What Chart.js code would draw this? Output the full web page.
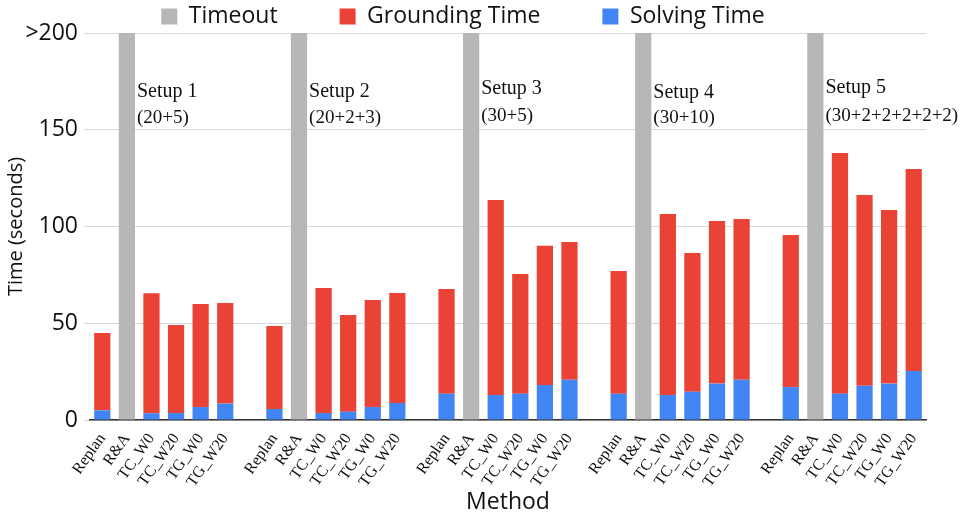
<!DOCTYPE html>
<html>
<head>
<meta charset="utf-8">
<script src="https://cdn.jsdelivr.net/npm/chart.js@4.4.1/dist/chart.umd.min.js"></script>
<style>
  html, body { margin: 0; padding: 0; background: #fff; }
  #wrap { width: 961px; height: 516px; }
</style>
</head>
<body>
<div id="wrap"><canvas id="timeChart"></canvas></div>
<script>
var methods = ['Replan', 'R&A', 'TC_W0', 'TC_W20', 'TG_W0', 'TG_W20'];
var setupNames = ['Setup 1', 'Setup 2', 'Setup 3', 'Setup 4', 'Setup 5'];
var setupSizes = ['(20+5)', '(20+2+3)', '(30+5)', '(30+10)', '(30+2+2+2+2+2)'];

// per setup, per method (R&A timed out, so null)
var solving1 = [5, null, 3.5, 3.6, 6.7, 8.5];
var solving2 = [5.7, null, 3.6, 4.3, 6.7, 8.8];
var solving3 = [13.6, null, 12.9, 13.6, 18.1, 20.8];
var solving4 = [13.6, null, 12.9, 14.6, 18.8, 20.8];
var solving5 = [17, null, 13.6, 17.7, 18.8, 25.3];

var grounding1 = [40, null, 62, 45.5, 53.3, 52];
var grounding2 = [42.9, null, 64.6, 50, 55.3, 56.8];
var grounding3 = [54.1, null, 100.8, 61.9, 71.9, 71.2];
var grounding4 = [63.4, null, 93.6, 71.7, 84, 83.1];
var grounding5 = [78.6, null, 124.4, 98.6, 89.7, 104.4];

var timeout = [null, 200, null, null, null, null];

var yTicks = [0, 50, 100, 150, 200];
var yTickLabels = ['0', '50', '100', '150', '>200'];

// build flat category list with an empty slot between setups
var labels = [], solving = [], grounding = [], timeouts = [], raIndex = [];
var solvingSets = [solving1, solving2, solving3, solving4, solving5];
var groundingSets = [grounding1, grounding2, grounding3, grounding4, grounding5];
for (var s = 0; s < setupNames.length; s++) {
    if (s > 0) {
        labels.push('');
        solving.push(null); grounding.push(null); timeouts.push(null);
    }
    for (var m = 0; m < methods.length; m++) {
        if (methods[m] === 'R&A') raIndex.push(labels.length);
        labels.push(methods[m]);
        solving.push(solvingSets[s][m]);
        grounding.push(groundingSets[s][m]);
        timeouts.push(timeout[m]);
    }
}

var setupLabelShift = [0, 0, -3, 1, -4];

var setupLabels = {
    id: 'setupLabels',
    afterDatasetsDraw: function(chart) {
        var ctx = chart.ctx;
        var meta = chart.getDatasetMeta(2);
        var top = chart.chartArea.top;
        ctx.save();
        ctx.fillStyle = '#111';
        ctx.textAlign = 'left';
        ctx.textBaseline = 'middle';
        raIndex.forEach(function(idx, i) {
            var bar = meta.data[idx];
            var x = bar.x + bar.width / 2 + 2;
            ctx.font = '20px "Liberation Serif"';
            ctx.fillText(setupNames[i], x, top + 59 + setupLabelShift[i]);
            ctx.font = '19px "Liberation Serif"';
            ctx.fillText(setupSizes[i], x, top + 85 + setupLabelShift[i] / 2);
        });
        ctx.restore();
    }
};

var ctx = document.getElementById('timeChart').getContext('2d');
var timeChart = new Chart(ctx, {
    type: 'bar',
    data: {
        labels: labels,
        datasets: [{
            label: 'Solving Time',
            data: solving,
            backgroundColor: '#4285f4'
        }, {
            label: 'Grounding Time',
            data: grounding,
            backgroundColor: '#ea4335'
        }, {
            label: 'Timeout',
            data: timeouts,
            backgroundColor: '#b7b7b7'
        }]
    },
    options: {
        responsive: true,
        maintainAspectRatio: false,
        animation: false,
        layout: { padding: { top: -57, right: 35, left: 0, bottom: 0 } },
        datasets: {
            bar: { barPercentage: 0.66, categoryPercentage: 1 }
        },
        plugins: {
            tooltip: { enabled: false },
            legend: {
                position: 'top',
                maxHeight: 90,
                labels: {
                    boxWidth: 16,
                    boxHeight: 16,
                    padding: 62,
                    color: '#111',
                    font: { family: '"Open Sans"', size: 23 },
                    sort: function(a, b) { return b.datasetIndex - a.datasetIndex; }
                }
            }
        },
        scales: {
            x: {
                stacked: true,
                grid: { display: false },
                border: { color: '#333', width: 1.5 },
                ticks: {
                    autoSkip: false,
                    maxRotation: 55,
                    minRotation: 55,
                    color: '#111',
                    padding: 2,
                    font: { family: '"Liberation Serif"', size: 16 }
                },
                title: {
                    display: true,
                    text: 'Method',
                    color: '#111',
                    padding: 0,
                    font: { family: '"Open Sans"', size: 23 }
                },
                afterFit: function(scale) { scale.height = 96; }
            },
            y: {
                stacked: true,
                min: 0,
                max: 200,
                afterBuildTicks: function(scale) {
                    scale.ticks = yTicks.map(function(v) { return { value: v }; });
                },
                ticks: {
                    color: '#111',
                    padding: 6,
                    font: { family: '"Open Sans"', size: 23 },
                    callback: function(value) { return yTickLabels[yTicks.indexOf(value)]; }
                },
                grid: { color: '#d9d9d9', tickLength: 6 },
                border: { display: false },
                title: {
                    display: true,
                    text: 'Time (seconds)',
                    color: '#111',
                    padding: { top: 4, bottom: 2 },
                    font: { family: '"Open Sans"', size: 20 }
                },
                afterFit: function(scale) { scale.width = 90; }
            }
        }
    },
    plugins: [setupLabels]
});
</script>
</body>
</html>
